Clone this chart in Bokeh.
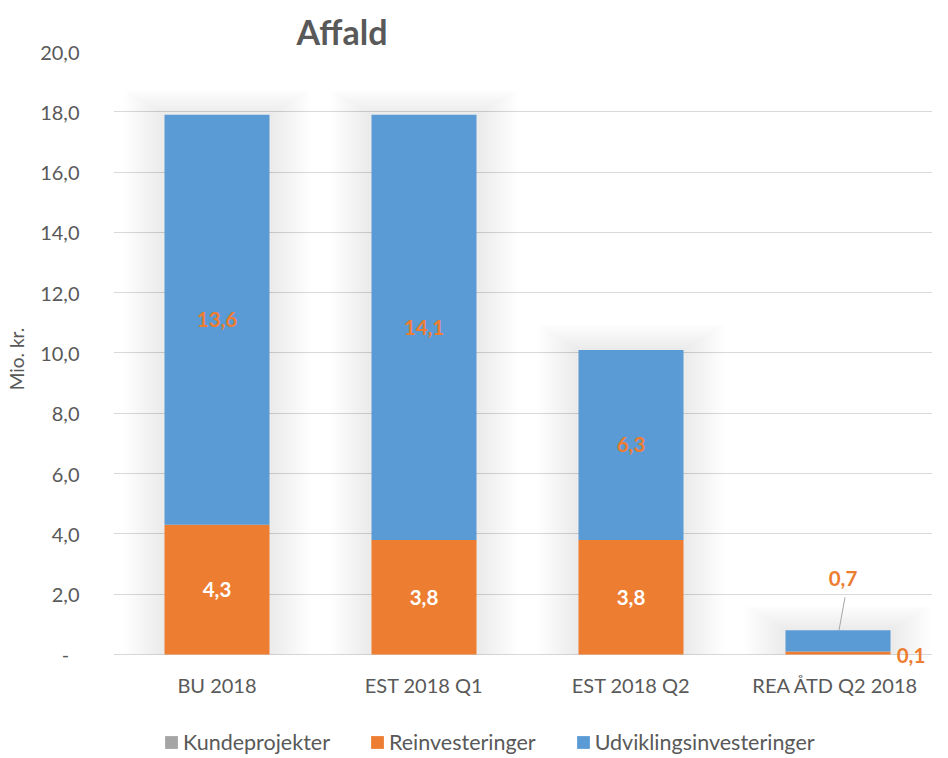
import numpy as np
from bokeh.plotting import figure
from bokeh.layouts import column
from bokeh.models import (Range1d, FixedTicker, CustomJSTickFormatter, Legend, LegendItem,
                          Title, LabelSet, ColumnDataSource)
from bokeh.embed import file_html
from bokeh.resources import INLINE
from bokeh.core.properties import value

# ---- data ----
categories = ["BU 2018", "EST 2018 Q1", "EST 2018 Q2", "REA ÅTD  Q2 2018"]
kundeprojekter = [0.0, 0.0, 0.0, 0.0]
reinvesteringer = [4.3, 3.8, 3.8, 0.1]
udviklingsinvesteringer = [13.6, 14.1, 6.3, 0.7]
series_names = ["Kundeprojekter", "Reinvesteringer", "Udviklingsinvesteringer"]
y_ticks = [0, 2, 4, 6, 8, 10, 12, 14, 16, 18, 20]
title_text = "Affald"
y_label = "Mio. kr."

# ---- style ----
GREY = "#A5A5A5"
ORANGE = "#ED7D31"
BLUE = "#5B9BD5"
TXT = "#595959"
GRID = "#D9D9D9"
FONT = "Lato"
COLORS = [GREY, ORANGE, BLUE]

W = 932
LEFT, TOP = 113, 51
Y_MIN, Y_MAX = -0.4, 20.0
PX_PER_UNIT = 30.15
FRAME_H = int(round((Y_MAX - Y_MIN) * PX_PER_UNIT))
BOTTOM = 41
H = TOP + FRAME_H + BOTTOM
LEG_H = 49
CAT_PX = 207.0
FRAME_W = W - LEFT

xs = np.arange(len(categories)) + 0.5
bar_w = 105.0 / CAT_PX
kun = np.array(kundeprojekter)
rei = np.array(reinvesteringer)
udv = np.array(udviklingsinvesteringer)
totals = kun + rei + udv

title = Title(text=title_text, align="left", offset=183, standoff=0, text_font=FONT,
              text_font_size="34px", text_font_style="bold", text_color=TXT)

p = figure(width=W, height=H, x_range=Range1d(0, FRAME_W / CAT_PX), y_range=Range1d(Y_MIN, Y_MAX),
           output_backend="svg", toolbar_location=None, title=title,
           min_border_left=LEFT, min_border_right=0, min_border_top=TOP, min_border_bottom=BOTTOM)
p.outline_line_color = None
p.background_fill_color = "white"
p.border_fill_color = "white"

# soft shadow around bars
for k in range(1, 11):
    p.vbar(x=xs, width=bar_w + 2 * k * 4 / CAT_PX, top=totals + k * 2.5 / PX_PER_UNIT, bottom=0,
           fill_color="black", fill_alpha=0.008, line_color=None)

src = ColumnDataSource(dict(x=xs, Kundeprojekter=kun, Reinvesteringer=rei, Udviklingsinvesteringer=udv))
rs = p.vbar_stack(series_names, x="x", width=bar_w, fill_color=COLORS,
                  line_color=None, source=src)

# axes
p.xgrid.grid_line_color = None
p.ygrid.grid_line_color = GRID
p.ygrid.ticker = FixedTicker(ticks=y_ticks)

p.yaxis.ticker = FixedTicker(ticks=y_ticks)
p.yaxis.formatter = CustomJSTickFormatter(
    code="return tick == 0 ? '-\u00a0\u00a0' : tick.toFixed(1).replace('.', ',');")
p.yaxis.axis_line_color = None
p.yaxis.major_tick_line_color = None
p.yaxis.minor_tick_line_color = None
p.yaxis.major_label_standoff = 28
p.yaxis.major_label_text_font = FONT
p.yaxis.major_label_text_font_size = "20px"
p.yaxis.major_label_text_color = TXT
p.yaxis.axis_label = y_label
p.yaxis.axis_label_text_font = FONT
p.yaxis.axis_label_text_font_size = "19px"
p.yaxis.axis_label_text_font_style = "normal"
p.yaxis.axis_label_text_color = TXT
p.yaxis.axis_label_standoff = 9

p.xaxis.ticker = FixedTicker(ticks=list(xs))
p.xaxis.formatter = CustomJSTickFormatter(args=dict(labels=categories),
                                          code="return labels[Math.floor(tick)];")
p.xaxis.axis_line_color = None
p.xaxis.major_tick_line_color = None
p.xaxis.minor_tick_line_color = None
p.xaxis.major_label_standoff = 0
p.xaxis.major_label_text_font = FONT
p.xaxis.major_label_text_font_size = "20px"
p.xaxis.major_label_text_color = TXT

# data labels
def fmt(v):
    return f"{v:.1f}".replace(".", ",")

lab = dict(x=[], y=[], text=[], color=[], xo=[], yo=[])
n = len(categories)
for i in range(n):
    small = totals[i] < 2
    # reinvesteringer
    lab["x"].append(xs[i]); lab["y"].append(kun[i] + rei[i] / 2); lab["text"].append(fmt(rei[i]))
    lab["color"].append(ORANGE if small else "white")
    lab["xo"].append(73 if small else 0); lab["yo"].append(-3 if small else 0)
    # udviklingsinvesteringer
    lab["x"].append(xs[i]); lab["y"].append(kun[i] + rei[i] + udv[i] / 2); lab["text"].append(fmt(udv[i]))
    lab["color"].append(ORANGE)
    lab["xo"].append(5 if small else 0); lab["yo"].append(62 if small else 0)

p.add_layout(LabelSet(source=ColumnDataSource(lab), x="x", y="y", text="text",
                      x_offset="xo", y_offset="yo", text_color="color", text_font=value(FONT),
                      text_font_size="20.5px", text_font_style="bold",
                      text_align="center", text_baseline="middle"))

# leader line for the small bar
small_idx = [i for i in range(n) if totals[i] < 2]
p.segment(x0=[xs[i] + 1 / CAT_PX for i in small_idx], y0=[totals[i] for i in small_idx],
          x1=[xs[i] + 7 / CAT_PX for i in small_idx], y1=[totals[i] + 33 / PX_PER_UNIT for i in small_idx],
          line_color="#A6A6A6", line_width=1)

# legend strip (separate figure below the chart)
lf = figure(width=W, height=LEG_H, x_range=Range1d(0, 1), y_range=Range1d(0, 1),
            output_backend="svg", toolbar_location=None, x_axis_type=None, y_axis_type=None,
            min_border=0)
lf.outline_line_color = None
lf.xgrid.grid_line_color = None
lf.ygrid.grid_line_color = None
legend_rs = [lf.vbar(x=[5.0], top=[1.0], width=0.1, fill_color=c, line_color=None) for c in COLORS]
legend = Legend(items=[LegendItem(label=nm, renderers=[r]) for nm, r in zip(series_names, legend_rs)],
                orientation="horizontal", location=(50, 1))
legend.glyph_width = 16
legend.glyph_height = 16
legend.label_standoff = 4
legend.spacing = 39
legend.padding = 0
legend.margin = 0
legend.border_line_color = None
legend.background_fill_alpha = 0
legend.label_text_font = FONT
legend.label_text_font_size = "21.5px"
legend.label_text_color = TXT
legend.label_height = 20
lf.add_layout(legend, "center")

layout = column(p, lf, spacing=0)
open("out.html", "w").write(file_html(layout, INLINE))
